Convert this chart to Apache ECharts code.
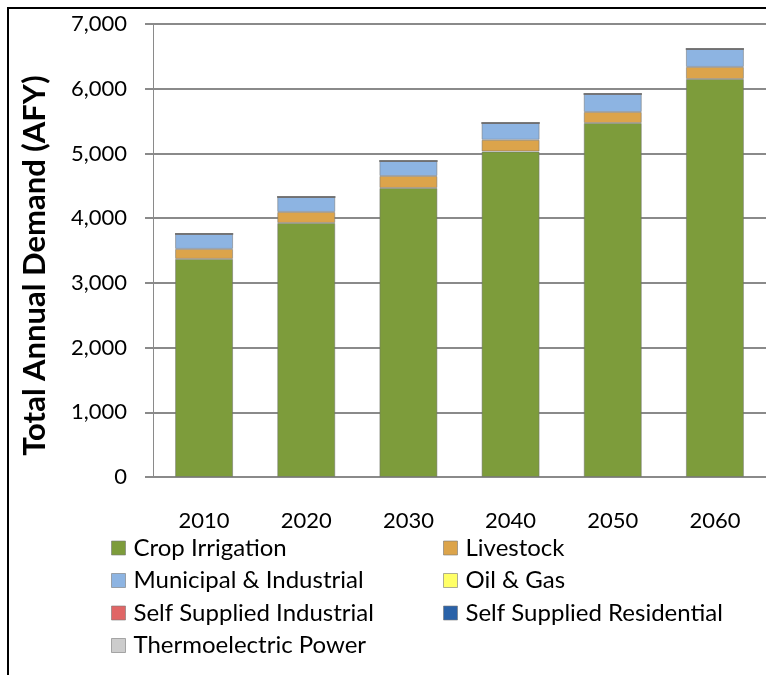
<!DOCTYPE html>
<html>
<head>
<meta charset="utf-8">
<script src="https://cdn.jsdelivr.net/npm/echarts@6/dist/echarts.min.js"></script>
<style>
	* { margin: 0; padding: 0; }
	body { background: #fff; }
	#main { width: 766px; height: 675px; }
</style>
</head>
<body>
<div id="main"></div>
<script>
	// decades on the x axis
	var years = ['2010', '2020', '2030', '2040', '2050', '2060']
	// demand by use type, AFY
	var cropIrrigation = [3370, 3925, 4466, 5030, 5470, 6150]
	var livestock = [154, 170, 185, 180, 170, 186]
	var municipalIndustrial = [232, 232, 232, 260, 279, 278]
	var oilGas = [0, 0, 0, 0, 0, 0]
	var selfIndustrial = [0, 0, 0, 0, 0, 0]
	var selfResidential = [0, 0, 0, 0, 0, 0]
	var thermoelectric = [0, 0, 0, 0, 0, 0]

	var names = ['Crop Irrigation', 'Livestock', 'Municipal & Industrial', 'Oil & Gas',
		'Self Supplied Industrial', 'Self Supplied Residential', 'Thermoelectric Power']
	var values = [cropIrrigation, livestock, municipalIndustrial, oilGas,
		selfIndustrial, selfResidential, thermoelectric]
	var colors = ['#7d9c3b', '#dca44b', '#8db4e2', '#ffff66', '#e06666', '#2a62a8', '#cccccc']

	var font = 'Lato'

	var series = names.map(function(n, i) {
		return {
			name: n,
			type: 'bar',
			stack: 'total',
			barWidth: 58,
			data: values[i],
			itemStyle: {
				color: colors[i],
				borderColor: 'rgba(110,110,110,0.5)',
				borderWidth: 1
			}
		}
	})

	function legendCol(left, data) {
		return {
			orient: 'vertical',
			left: left,
			top: 536,
			padding: 0,
			itemWidth: 14,
			itemHeight: 14,
			itemGap: 8.5,
			icon: 'rect',
			data: data,
			textStyle: { fontFamily: font, fontSize: 24, color: '#000', lineHeight: 24, padding: [0, 0, 0, 3] },
			itemStyle: { borderColor: 'rgba(120,120,120,0.6)', borderWidth: 1 },
			selectedMode: false
		}
	}

	var chart = echarts.init(document.getElementById('main'))
	chart.setOption({
		animation: false,
		textStyle: { fontFamily: font },
		grid: { left: 153, top: 24, width: 624, bottom: 198 },
		legend: [
			legendCol(111, [names[0], names[2], names[4], names[6]]),
			legendCol(443, [names[1], names[3], names[5]])
		],
		xAxis: {
			type: 'category',
			data: years,
			axisLine: { lineStyle: { color: '#8a8a8a', width: 2 } },
			axisTick: { show: false },
			axisLabel: { fontFamily: font, fontSize: 22, color: '#000', margin: 33 }
		},
		yAxis: {
			type: 'value',
			min: 0,
			max: 7000,
			interval: 1000,
			name: 'Total Annual Demand (AFY)',
			nameLocation: 'middle',
			nameGap: 103,
			nameTextStyle: { fontFamily: font, fontSize: 31, fontWeight: 'bold', color: '#000', padding: [0, 30, 0, 0] },
			axisLine: { show: true, lineStyle: { color: '#8a8a8a', width: 1 } },
			axisTick: { show: true, length: 8, lineStyle: { color: '#8a8a8a', width: 2 } },
			splitLine: { lineStyle: { color: '#8a8a8a', width: 2 } },
			axisLabel: {
				fontFamily: font, fontSize: 22, color: '#000', margin: 26,
				formatter: function(v) { return v.toLocaleString('en-US') }
			}
		},
		graphic: [{
			type: 'polyline',
			shape: { points: [[8, 675], [8, 8], [766, 8]] },
			style: { stroke: '#000', lineWidth: 2, fill: null }
		}],
		series: series
	})
</script>
</body>
</html>
